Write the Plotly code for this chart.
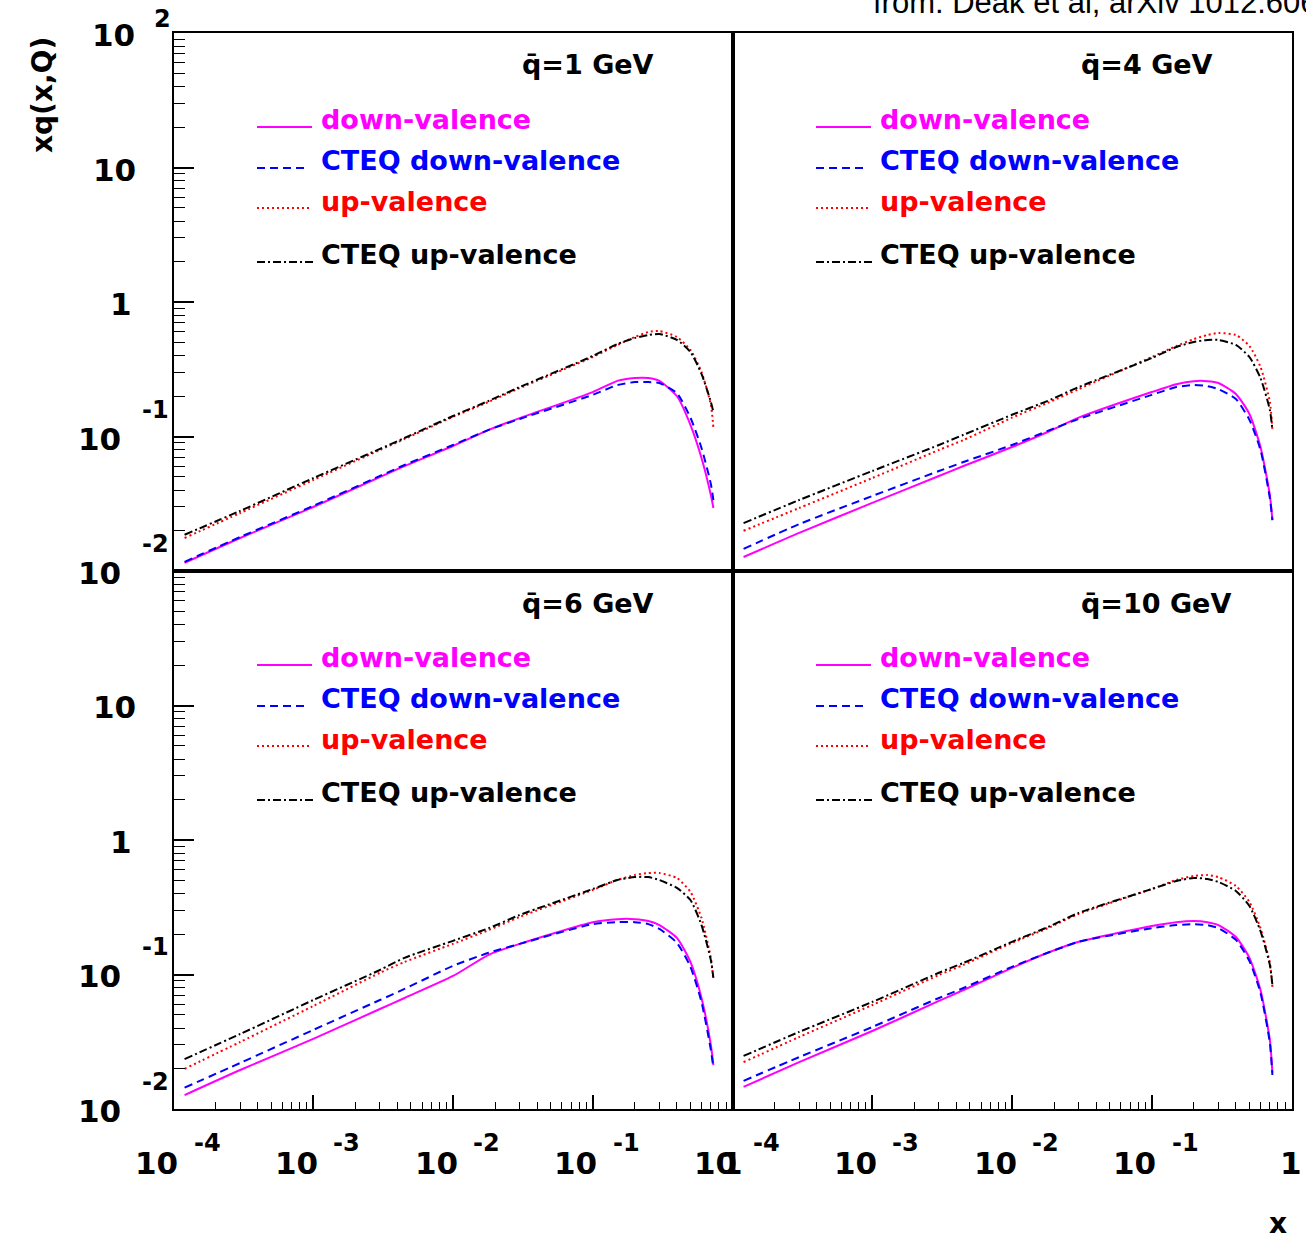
import math
import plotly.graph_objects as go

W, H = 1306, 1239

# ---------------- data ----------------
x_vals = [1.2e-4, 3e-4, 1e-3, 3e-3, 4.5e-3, 1e-2, 1.8e-2, 3e-2, 0.1, 0.15,
          0.2, 0.25, 0.3, 0.4, 0.5, 0.6, 0.7, 0.73]

panel_titles = ["q\u0304=1 GeV", "q\u0304=4 GeV", "q\u0304=6 GeV", "q\u0304=10 GeV"]
series_names = ["down-valence", "CTEQ down-valence", "up-valence", "CTEQ up-valence"]

# Q = 1 GeV
down_q1 = [0.0115, 0.0176, 0.0299, 0.0500, 0.0603, 0.0850, 0.112, 0.137, 0.214, 0.259,
           0.272, 0.272, 0.259, 0.200, 0.122, 0.0692, 0.0367, 0.0294]
cteq_down_q1 = [0.0117, 0.0179, 0.0305, 0.0509, 0.0614, 0.0865, 0.112, 0.135, 0.204, 0.241,
                0.254, 0.254, 0.250, 0.210, 0.138, 0.0822, 0.0444, 0.0337]
up_q1 = [0.0176, 0.0270, 0.0475, 0.0794, 0.0958, 0.140, 0.181, 0.229, 0.390, 0.479,
         0.549, 0.598, 0.608, 0.549, 0.440, 0.302, 0.172, 0.116]
cteq_up_q1 = [0.0186, 0.0280, 0.0491, 0.0808, 0.0975, 0.142, 0.184, 0.233, 0.397, 0.487,
              0.540, 0.568, 0.578, 0.522, 0.425, 0.292, 0.181, 0.152]

# Q = 4 GeV
down_q4 = [0.0127, 0.0192, 0.0321, 0.0509, 0.0603, 0.0835, 0.108, 0.138, 0.214, 0.245,
           0.258, 0.258, 0.250, 0.207, 0.147, 0.0835, 0.0367, 0.0239]
cteq_down_q4 = [0.0146, 0.0223, 0.0361, 0.0554, 0.0646, 0.0865, 0.110, 0.135, 0.204, 0.233,
                0.241, 0.237, 0.225, 0.190, 0.133, 0.0794, 0.0349, 0.0239]
up_q4 = [0.0199, 0.0294, 0.0491, 0.0794, 0.0942, 0.138, 0.178, 0.225, 0.390, 0.471,
         0.530, 0.568, 0.588, 0.568, 0.471, 0.329, 0.181, 0.112]
cteq_up_q4 = [0.0227, 0.0337, 0.0554, 0.0865, 0.103, 0.145, 0.184, 0.233, 0.383, 0.463,
              0.504, 0.522, 0.522, 0.479, 0.390, 0.272, 0.158, 0.112]

# Q = 6 GeV
down_q6 = [0.0127, 0.0195, 0.0332, 0.0554, 0.0669, 0.0975, 0.140, 0.169, 0.245, 0.258,
           0.258, 0.250, 0.233, 0.187, 0.124, 0.0669, 0.0299, 0.0212]
cteq_down_q6 = [0.0144, 0.0220, 0.0387, 0.0646, 0.0781, 0.116, 0.145, 0.169, 0.237, 0.245,
                0.245, 0.237, 0.218, 0.172, 0.114, 0.0625, 0.0275, 0.0202]
up_q6 = [0.0199, 0.0315, 0.0583, 0.103, 0.124, 0.169, 0.214, 0.268, 0.425, 0.504,
         0.549, 0.568, 0.568, 0.522, 0.411, 0.263, 0.133, 0.0910]
cteq_up_q6 = [0.0235, 0.0361, 0.0646, 0.108, 0.133, 0.178, 0.221, 0.277, 0.432, 0.504,
              0.530, 0.530, 0.504, 0.440, 0.358, 0.233, 0.128, 0.0942]

# Q = 10 GeV
down_q10 = [0.0146, 0.0223, 0.0380, 0.0636, 0.0767, 0.112, 0.145, 0.175, 0.229, 0.245,
            0.250, 0.245, 0.233, 0.190, 0.133, 0.0767, 0.0326, 0.0186]
cteq_down_q10 = [0.0162, 0.0243, 0.0407, 0.0669, 0.0794, 0.114, 0.145, 0.175, 0.221, 0.233,
                 0.237, 0.233, 0.221, 0.181, 0.126, 0.0729, 0.0310, 0.0179]
up_q10 = [0.0223, 0.0343, 0.0593, 0.0991, 0.118, 0.172, 0.221, 0.282, 0.432, 0.504,
          0.540, 0.549, 0.530, 0.455, 0.346, 0.221, 0.122, 0.0808]
cteq_up_q10 = [0.0248, 0.0374, 0.0625, 0.103, 0.122, 0.175, 0.225, 0.287, 0.432, 0.495,
               0.522, 0.513, 0.487, 0.418, 0.323, 0.210, 0.118, 0.0835]

y_tick_vals = [100, 10, 1, 0.1, 0.01]
y_tick_base = ["10", "10", "1", "10", "10"]
y_tick_exp = ["2", "", "", "-1", "-2"]
x_tick_vals = [1e-4, 1e-3, 1e-2, 1e-1, 1]
x_tick_base = ["10", "10", "10", "10", "1"]
x_tick_exp = ["-4", "-3", "-2", "-1", ""]

panels = [
    [down_q1, cteq_down_q1, up_q1, cteq_up_q1],
    [down_q4, cteq_down_q4, up_q4, cteq_up_q4],
    [down_q6, cteq_down_q6, up_q6, cteq_up_q6],
    [down_q10, cteq_down_q10, up_q10, cteq_up_q10],
]

# ---------------- styling ----------------
colors = ["#ff00ff", "#0000ff", "#ff0000", "#000000"]
dashes = ["solid", "8px,5px", "2px,3px", "8px,3px,2px,3px"]
FONT = "DejaVu Sans"


def PX(px):
    return px / W


def PY(py):
    return 1 - py / H


XL, XM, XR = 173.5, 732.5, 1291.5
YT, YM, YB = 33, 571, 1109
xdoms = [[PX(XL), PX(XM)], [PX(XM), PX(XR)]]
ydoms = [[PY(YM), PY(YT)], [PY(YB), PY(YM)]]

fig = go.Figure()

for i, curves in enumerate(panels):
    ax = "" if i == 0 else str(i + 1)
    for j, yv in enumerate(curves):
        fig.add_trace(go.Scatter(
            x=x_vals, y=yv, mode="lines", name=series_names[j],
            xaxis="x" + ax, yaxis="y" + ax, showlegend=False,
            line=dict(color=colors[j], width=2, dash=dashes[j], shape="spline", smoothing=0.6),
        ))

layout = dict(width=W, height=H, margin=dict(l=0, r=0, t=0, b=0),
              paper_bgcolor="white", plot_bgcolor="white", showlegend=False)

for i in range(4):
    ax = "" if i == 0 else str(i + 1)
    col, row = i % 2, i // 2
    left, bottom = col == 0, row == 1
    xa = dict(type="log", range=[-4, 0], domain=xdoms[col], anchor="y" + ax,
              showgrid=False, zeroline=False, showline=True, mirror=True,
              linecolor="black", linewidth=2, showticklabels=False,
              dtick=1)
    if bottom:
        xa.update(ticks="inside", ticklen=14, tickwidth=1.5, tickcolor="black",
                  minor=dict(ticks="inside", ticklen=7, tickwidth=1.2, tickcolor="black",
                             dtick="D1", showgrid=False))
    else:
        xa.update(ticks="")
    ya = dict(type="log", range=[-2, 2], domain=ydoms[row], anchor="x" + ax,
              showgrid=False, zeroline=False, showline=True, mirror=True,
              linecolor="black", linewidth=2, showticklabels=False, dtick=1)
    if left:
        ya.update(ticks="inside", ticklen=20, tickwidth=1.5, tickcolor="black",
                  minor=dict(ticks="inside", ticklen=11, tickwidth=1.2, tickcolor="black",
                             dtick="D1", showgrid=False))
    else:
        ya.update(ticks="")
    layout["xaxis" + ax] = xa
    layout["yaxis" + ax] = ya

annotations = []
shapes = []

# panel titles and legends
leg_line_y = [127, 168, 208, 262]
leg_text_y = [119, 160, 201, 254]
leg_line_x1 = [312, 309, 310, 315]
for i in range(4):
    col, row = i % 2, i // 2
    dx, dy = col * 559, row * 538
    annotations.append(dict(xref="paper", yref="paper", x=PX(520 + dx), y=PY(65 + dy),
                            xanchor="left", yanchor="middle", showarrow=False,
                            text="<b>" + panel_titles[i] + "</b>",
                            font=dict(family=FONT, size=27, color="black")))
    for j in range(4):
        shapes.append(dict(type="line", xref="paper", yref="paper",
                           x0=PX(257 + dx), x1=PX(leg_line_x1[j] + dx),
                           y0=PY(leg_line_y[j] + dy), y1=PY(leg_line_y[j] + dy),
                           line=dict(color=colors[j], width=2, dash=dashes[j])))
        annotations.append(dict(xref="paper", yref="paper", x=PX(319 + dx), y=PY(leg_text_y[j] + dy),
                                xanchor="left", yanchor="middle", showarrow=False,
                                text="<b>" + series_names[j] + "</b>",
                                font=dict(family=FONT, size=27, color=colors[j])))

# y tick labels (left panels)
for yref, skip_top in (("y", False), ("y3", True)):
    for v, b, e in zip(y_tick_vals, y_tick_base, y_tick_exp):
        if skip_top and v == 100:
            continue
        lv = math.log10(v)
        if e == "":
            right = 138 if b == "10" else 134
        elif e == "2":
            right = 137
        else:
            right = 123
        annotations.append(dict(xref="paper", yref=yref, x=PX(right), y=lv, yshift=-2,
                                xanchor="right", yanchor="middle", showarrow=False,
                                text="<b>" + b + "</b>",
                                font=dict(family=FONT, size=31, color="black")))
        if e:
            eleft = 152 if e == "2" else 140
            eshift = 14 if e == "2" else 27
            annotations.append(dict(xref="paper", yref=yref, x=PX(eleft), y=lv, yshift=eshift,
                                    xanchor="left", yanchor="middle", showarrow=False,
                                    text="<b>" + e + "</b>",
                                    font=dict(family=FONT, size=24, color="black")))

# x tick labels (bottom panels)
for xref in ("x3", "x4"):
    for v, b, e in zip(x_tick_vals, x_tick_base, x_tick_exp):
        lv = math.log10(v)
        if e:
            annotations.append(dict(xref=xref, yref="paper", x=lv, xshift=6.5, y=PY(1163),
                                    xanchor="right", yanchor="middle", showarrow=False,
                                    text="<b>" + b + "</b>",
                                    font=dict(family=FONT, size=31, color="black")))
            annotations.append(dict(xref=xref, yref="paper", x=lv, xshift=18, y=PY(1143),
                                    xanchor="left", yanchor="middle", showarrow=False,
                                    text="<b>" + e + "</b>",
                                    font=dict(family=FONT, size=24, color="black")))
        else:
            annotations.append(dict(xref=xref, yref="paper", x=lv, xshift=-1, y=PY(1163),
                                    xanchor="center", yanchor="middle", showarrow=False,
                                    text="<b>" + b + "</b>",
                                    font=dict(family=FONT, size=31, color="black")))

# axis titles
annotations.append(dict(xref="paper", yref="paper", x=PX(42), y=PY(95), textangle=-90,
                        xanchor="center", yanchor="middle", showarrow=False,
                        text="<b>xq(x,Q)</b>", font=dict(family=FONT, size=28, color="black")))
annotations.append(dict(xref="paper", yref="paper", x=PX(1278), y=PY(1223),
                        xanchor="center", yanchor="middle", showarrow=False,
                        text="<b>x</b>", font=dict(family=FONT, size=28, color="black")))
# source note (clipped at the top-right edge as in the original)
annotations.append(dict(xref="paper", yref="paper", x=PX(871), y=PY(2),
                        xanchor="left", yanchor="middle", showarrow=False,
                        text="from: Deak et al, arXiv 1012.6068",
                        font=dict(family="Liberation Sans", size=31, color="black")))

layout["annotations"] = annotations
layout["shapes"] = shapes
fig.update_layout(**layout)
fig.write_html("out.html")
